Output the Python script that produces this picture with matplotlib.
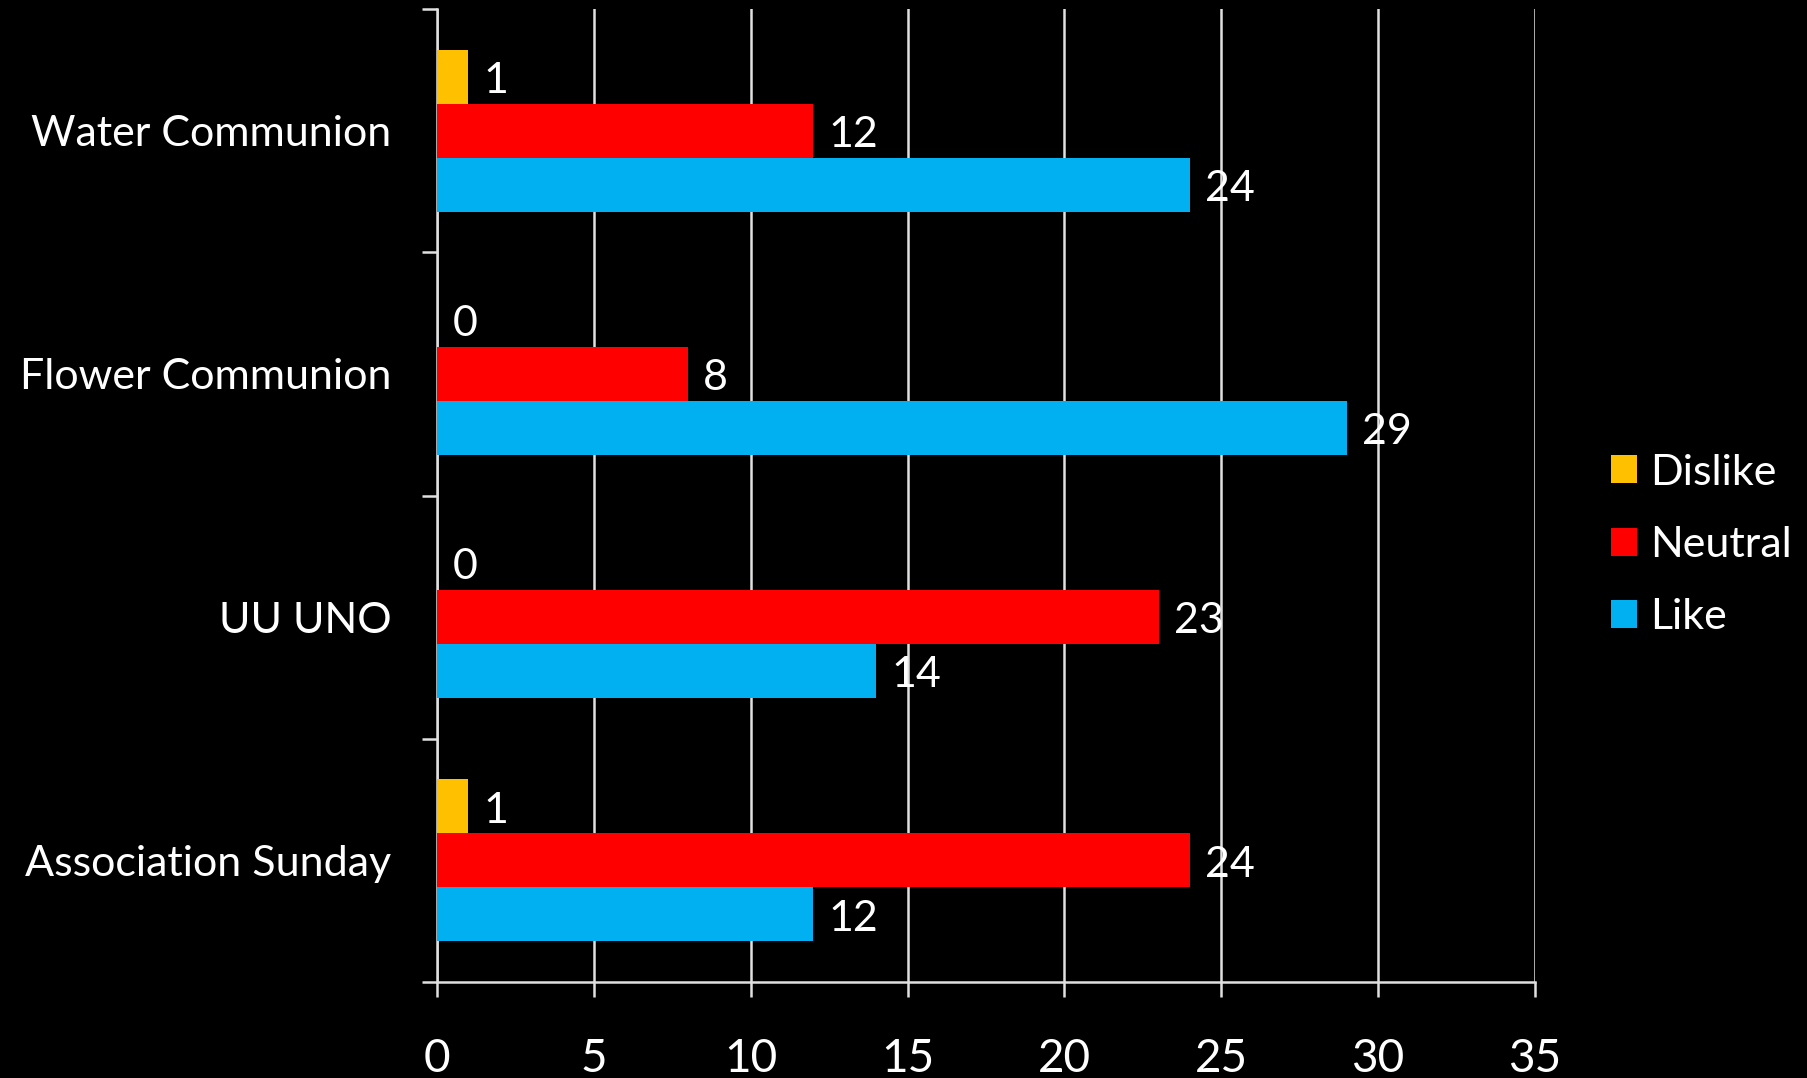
import matplotlib.pyplot as plt
import numpy as np

plt.rcParams['font.family'] = ['Lato', 'DejaVu Sans']

categories = ["Water Communion", "Flower Communion", "UU UNO", "Association Sunday"]
series_names = ["Dislike", "Neutral", "Like"]
dislike = [1, 0, 0, 1]
neutral = [12, 8, 23, 24]
like = [24, 29, 14, 12]
colors = ["#FFC000", "#FF0000", "#00B0F0"]
x_ticks = [0, 5, 10, 15, 20, 25, 30, 35]

fig = plt.figure(figsize=(18.08, 10.78), dpi=100, facecolor="black")
ax = fig.add_axes([437 / 1808, 1 - 982 / 1078, (1535 - 437) / 1808, (982 - 9) / 1078])
ax.set_facecolor("black")

pos = np.arange(len(categories))
bar_h = 0.222
values = [dislike, neutral, like]
for i, (name, vals, col) in enumerate(zip(series_names, values, colors)):
    y = pos + (i - 1) * bar_h
    ax.barh(y, vals, height=bar_h, color=col, label=name, zorder=3)
    for yy, v in zip(y, vals):
        ax.annotate(str(v), (v, yy), xytext=(11, -3), textcoords="offset points",
                    va="center", ha="left", color="white", fontsize=31, zorder=4)

ax.set_xlim(0, 35)
ax.set_ylim(len(categories) - 0.5, -0.5)
ax.set_xticks(x_ticks)
ax.set_xticklabels([str(t) for t in x_ticks])
ax.xaxis.grid(True, color="#e0e0e0", linewidth=1.8, zorder=1)

# category boundaries get tick marks, names go on minor ticks at centers
ax.set_yticks(np.arange(-0.5, len(categories), 1.0))
ax.set_yticklabels([])
ax.set_yticks(pos, minor=True)
ax.set_yticklabels(categories, minor=True)

ax.tick_params(axis="x", colors="#e0e0e0", length=11, width=1.8, pad=29,
               labelsize=33, labelcolor="white")
ax.tick_params(axis="y", which="major", colors="#e0e0e0", length=11, width=1.8)
ax.tick_params(axis="y", which="minor", length=0, pad=33, labelsize=31, labelcolor="white")

for side in ["top", "right"]:
    ax.spines[side].set_visible(False)
for side in ["left", "bottom"]:
    ax.spines[side].set_color("#e0e0e0")
    ax.spines[side].set_linewidth(1.8)

leg = fig.legend(loc="center left", bbox_to_anchor=(1572 / 1808, 1 - 545 / 1078),
                 frameon=False, fontsize=31, labelcolor="white",
                 handlelength=0.62, handleheight=0.62, handletextpad=0.3,
                 labelspacing=0.8)

fig.savefig("out.png", dpi=100, facecolor="black")
